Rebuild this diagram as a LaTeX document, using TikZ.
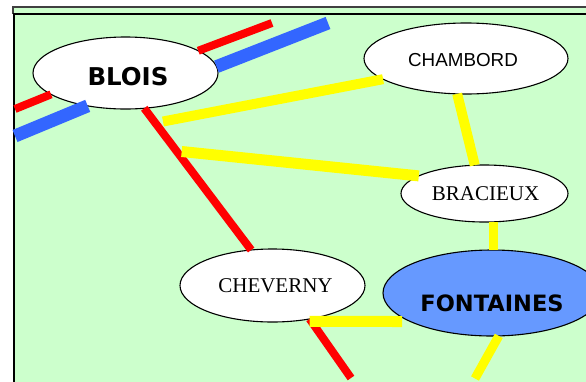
\documentclass[tikz,border=0pt]{standalone}
\usepackage{fontspec}
\usetikzlibrary{shapes.geometric}
\newfontfamily\dvsans{DejaVu Sans}
\newfontfamily\libsans{Liberation Sans}
\newfontfamily\libserif{Liberation Serif}
\definecolor{bggreen}{HTML}{CCFFCC}
\definecolor{railred}{HTML}{FF0000}
\definecolor{railblue}{HTML}{3366FF}
\definecolor{railyellow}{HTML}{FFFF00}
\definecolor{townblue}{HTML}{6699FF}
\tikzset{
  town/.style={ellipse, draw=black, line width=1.1pt, fill=white, inner sep=0pt, outer sep=0pt},
  bigname/.style={font=\dvsans\bfseries\fontsize{24.5}{28}\selectfont},
  bigname2/.style={font=\dvsans\bfseries\fontsize{22.5}{26}\selectfont},
  sansname/.style={font=\libsans\fontsize{18.8}{22}\selectfont},
  serifname/.style={font=\libserif\fontsize{21}{24}\selectfont},
  redline/.style={draw=railred, line width=8pt},
  blueline/.style={draw=railblue, line width=13pt},
  yellowline/.style={draw=railyellow, line width=10pt}
}
\begin{document}
\begin{tikzpicture}[x=1pt,y=-1pt]
\useasboundingbox (0,0) rectangle (586,381);
% background panel
\fill[bggreen] (13,7) rectangle (600,400);
\draw[black!75, line width=1.2pt] (13,14) -- (13,7) -- (600,7);
\draw[black, line width=2pt] (14,400) -- (14,14) -- (600,14);
% towns
\node[town, bigname, minimum width=185pt, minimum height=72pt] (blois) at (125.5,73)
  {\raisebox{-12pt}[0pt][0pt]{\hspace{5pt}BLOIS}};
\node[town, sansname, minimum width=204pt, minimum height=71pt] (chambord) at (466,58.5)
  {\raisebox{-7.5pt}[0pt][0pt]{CHAMBORD\hspace{6pt}}};
\node[town, serifname, minimum width=167pt, minimum height=57pt] (bracieux) at (484.5,193.5)
  {\raisebox{-6.5pt}[0pt][0pt]{\hspace{2pt}BRACIEUX}};
\node[town, serifname, minimum width=185pt, minimum height=73pt] (cheverny) at (272.5,285.5)
  {\raisebox{-6.5pt}[0pt][0pt]{\hspace{6pt}CHEVERNY}};
\node[town, bigname2, fill=townblue, minimum width=218pt, minimum height=86pt] (fontaines) at (492,293)
  {\raisebox{-18pt}[0pt][0pt]{FONTAINES}};
% free ends
\coordinate (redNE) at (272,23);
\coordinate (blueNE) at (328,23);
\coordinate (redW) at (15,109);
\coordinate (blueW) at (15,136);
\coordinate (jA) at (163,121.5);
\coordinate (jB) at (181.7,151.5);
\coordinate (fw) at (402,321.5);
\coordinate (redS) at (351,378);
\coordinate (yelS) at (475,378.5);
% red lines
\draw[redline] (blois.17) -- (redNE);
\draw[redline] (blois.196.6) -- (redW);
\draw[redline] (blois.-62) -- (cheverny.121);
\draw[redline] (cheverny.-42) -- (redS);
% blue lines
\draw[blueline] (blois.4) -- (blueNE);
\draw[blueline] (blois.221) -- (blueW);
% yellow lines
\draw[yellowline] (jA) -- (chambord.194);
\draw[yellowline, line width=11pt] (jB) -- (bracieux.165);
\draw[yellowline] (chambord.256) -- (bracieux.109);
\draw[yellowline, line width=9pt] (bracieux.-73) -- (bracieux.-73 |- fontaines.north);
\draw[yellowline, line width=11pt] ([yshift=-2.5pt]cheverny.-42) -- (fw);
\draw[yellowline, line width=9pt] (fontaines.-81) -- (yelS);
\end{tikzpicture}
\end{document}
